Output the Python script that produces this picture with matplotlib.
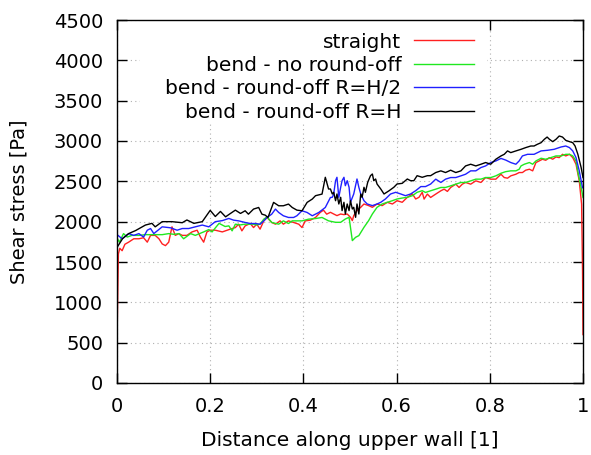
import matplotlib
matplotlib.use("Agg")
import matplotlib.pyplot as plt
from matplotlib.patches import Rectangle

# ---------------- data ----------------
labels = ["straight", "bend - no round-off", "bend - round-off R=H/2", "bend - round-off R=H"]
colors = ["#ff2020", "#20e820", "#2020ff", "#000000"]

x_straight = [0.000, 0.003, 0.006, 0.011, 0.017, 0.025, 0.036, 0.047, 0.057, 0.065,
              0.072, 0.082, 0.090, 0.097, 0.104, 0.111, 0.118, 0.125, 0.133, 0.140,
              0.150, 0.161, 0.172, 0.179, 0.186, 0.193, 0.200, 0.211, 0.226, 0.243,
              0.254, 0.261, 0.268, 0.275, 0.286, 0.293, 0.300, 0.307, 0.315, 0.322,
              0.332, 0.340, 0.350, 0.357, 0.368, 0.379, 0.390, 0.397, 0.404, 0.415,
              0.426, 0.436, 0.443, 0.450, 0.458, 0.465, 0.472, 0.480, 0.487, 0.494,
              0.501, 0.505, 0.508, 0.515, 0.523, 0.530, 0.540, 0.548, 0.558, 0.569,
              0.580, 0.591, 0.601, 0.612, 0.623, 0.634, 0.641, 0.648, 0.655, 0.659,
              0.666, 0.673, 0.684, 0.695, 0.702, 0.709, 0.716, 0.727, 0.734, 0.741,
              0.748, 0.759, 0.770, 0.781, 0.791, 0.802, 0.813, 0.824, 0.831, 0.838,
              0.845, 0.856, 0.863, 0.870, 0.877, 0.885, 0.892, 0.899, 0.906, 0.913,
              0.920, 0.928, 0.935, 0.942, 0.949, 0.956, 0.963, 0.971, 0.978, 0.985,
              0.992, 0.997, 0.999, 1.000]
y_straight = [510, 1600, 1670, 1640, 1720, 1746, 1788, 1788, 1801, 1746,
              1830, 1830, 1788, 1724, 1703, 1746, 1936, 1830, 1852, 1830,
              1830, 1873, 1894, 1809, 1746, 1873, 1894, 1894, 1873, 1907,
              1927, 1969, 1886, 1948, 1977, 1927, 1969, 1907, 2010, 2052,
              1990, 1969, 2010, 1969, 2010, 1990, 1969, 1927, 2010, 2019,
              2052, 2114, 2143, 2093, 2116, 2095, 2075, 2095, 2087, 2095,
              2054, 2013, 2075, 2137, 2178, 2219, 2199, 2178, 2219, 2199,
              2240, 2219, 2260, 2240, 2302, 2343, 2281, 2302, 2364, 2280,
              2342, 2300, 2342, 2383, 2403, 2375, 2424, 2465, 2424, 2465,
              2486, 2465, 2506, 2486, 2547, 2527, 2527, 2588, 2547, 2539,
              2568, 2588, 2609, 2609, 2638, 2650, 2630, 2733, 2753, 2774,
              2761, 2794, 2774, 2802, 2794, 2835, 2815, 2835, 2794, 2712,
              2506, 2218, 1395, 600]

x_no_round = [0.000, 0.005, 0.014, 0.022, 0.032, 0.047, 0.061, 0.075, 0.097, 0.111,
              0.122, 0.133, 0.143, 0.158, 0.168, 0.186, 0.197, 0.204, 0.219, 0.232,
              0.240, 0.247, 0.254, 0.265, 0.275, 0.290, 0.300, 0.307, 0.315, 0.322,
              0.332, 0.347, 0.357, 0.368, 0.376, 0.386, 0.397, 0.411, 0.426, 0.440,
              0.454, 0.469, 0.480, 0.490, 0.498, 0.505, 0.512, 0.519, 0.530, 0.540,
              0.548, 0.558, 0.569, 0.580, 0.591, 0.601, 0.612, 0.623, 0.634, 0.644,
              0.655, 0.662, 0.673, 0.684, 0.695, 0.705, 0.716, 0.727, 0.738, 0.748,
              0.759, 0.770, 0.781, 0.791, 0.802, 0.813, 0.824, 0.834, 0.845, 0.856,
              0.863, 0.867, 0.874, 0.885, 0.892, 0.899, 0.910, 0.920, 0.931, 0.942,
              0.953, 0.963, 0.971, 0.978, 0.985, 0.990, 0.996, 1.000]
y_no_round = [1800, 1746, 1852, 1809, 1830, 1830, 1839, 1839, 1839, 1852,
              1843, 1852, 1788, 1852, 1830, 1873, 1902, 1873, 1979, 1940,
              1948, 1886, 1969, 1960, 1969, 1969, 1960, 1969, 2031, 2060,
              1990, 1969, 2010, 1977, 2010, 2010, 2010, 2031, 2039, 2052,
              2010, 1992, 1992, 2033, 2054, 1765, 1806, 1827, 1930, 2013,
              2095, 2178, 2219, 2240, 2260, 2281, 2293, 2302, 2322, 2364,
              2384, 2362, 2383, 2403, 2424, 2424, 2444, 2465, 2486, 2486,
              2506, 2527, 2527, 2547, 2547, 2568, 2600, 2620, 2630, 2630,
              2650, 2691, 2712, 2733, 2712, 2753, 2786, 2774, 2794, 2815,
              2815, 2835, 2835, 2815, 2753, 2588, 2424, 2300]

x_half_h = [0.000, 0.011, 0.025, 0.036, 0.047, 0.057, 0.065, 0.072, 0.079, 0.097,
            0.115, 0.129, 0.140, 0.154, 0.168, 0.183, 0.197, 0.211, 0.226, 0.240,
            0.250, 0.261, 0.275, 0.286, 0.297, 0.307, 0.315, 0.322, 0.332, 0.340,
            0.347, 0.357, 0.368, 0.379, 0.386, 0.397, 0.408, 0.419, 0.433, 0.447,
            0.458, 0.462, 0.465, 0.469, 0.472, 0.476, 0.480, 0.483, 0.487, 0.490,
            0.494, 0.498, 0.501, 0.508, 0.515, 0.519, 0.523, 0.530, 0.537, 0.548,
            0.558, 0.566, 0.576, 0.587, 0.598, 0.609, 0.619, 0.630, 0.641, 0.652,
            0.662, 0.673, 0.684, 0.695, 0.705, 0.716, 0.727, 0.738, 0.748, 0.759,
            0.770, 0.781, 0.791, 0.802, 0.813, 0.824, 0.834, 0.845, 0.856, 0.863,
            0.870, 0.881, 0.895, 0.910, 0.924, 0.938, 0.953, 0.963, 0.971, 0.978,
            0.985, 0.992, 0.999]
y_half_h = [1840, 1788, 1852, 1830, 1852, 1809, 1894, 1915, 1852, 1936,
            1924, 1894, 1915, 1915, 1936, 1958, 1936, 2000, 2013, 2040,
            2019, 2010, 1990, 1977, 1977, 1969, 2010, 2052, 2093, 2156,
            2114, 2073, 2052, 2052, 2073, 2135, 2114, 2073, 2114, 2176,
            2300, 2302, 2343, 2508, 2550, 2302, 2426, 2508, 2550, 2446,
            2508, 2426, 2240, 2343, 2529, 2426, 2343, 2260, 2219, 2199,
            2219, 2240, 2281, 2343, 2364, 2343, 2322, 2343, 2384, 2435,
            2435, 2466, 2527, 2486, 2527, 2547, 2547, 2568, 2588, 2630,
            2630, 2671, 2691, 2733, 2753, 2784, 2764, 2733, 2712, 2753,
            2815, 2835, 2835, 2877, 2885, 2897, 2926, 2938, 2918, 2877,
            2794, 2630, 2420]

x_full_h = [0.000, 0.012, 0.025, 0.040, 0.061, 0.075, 0.082, 0.097, 0.118, 0.140,
            0.150, 0.165, 0.183, 0.200, 0.211, 0.222, 0.233, 0.243, 0.254, 0.265,
            0.275, 0.282, 0.293, 0.304, 0.311, 0.318, 0.324, 0.336, 0.347, 0.357,
            0.368, 0.376, 0.386, 0.397, 0.408, 0.419, 0.426, 0.440, 0.447, 0.450,
            0.454, 0.458, 0.462, 0.465, 0.469, 0.472, 0.476, 0.480, 0.483, 0.487,
            0.490, 0.494, 0.498, 0.501, 0.505, 0.508, 0.512, 0.515, 0.519, 0.523,
            0.526, 0.530, 0.533, 0.538, 0.544, 0.548, 0.551, 0.555, 0.558, 0.566,
            0.573, 0.584, 0.594, 0.601, 0.612, 0.623, 0.630, 0.637, 0.644, 0.655,
            0.666, 0.673, 0.684, 0.695, 0.705, 0.716, 0.727, 0.738, 0.748, 0.759,
            0.770, 0.781, 0.791, 0.802, 0.813, 0.824, 0.831, 0.838, 0.845, 0.856,
            0.867, 0.877, 0.888, 0.895, 0.902, 0.910, 0.917, 0.923, 0.928, 0.935,
            0.942, 0.949, 0.956, 0.963, 0.971, 0.978, 0.983, 0.989, 0.996, 1.000]
y_full_h = [1680, 1790, 1852, 1890, 1958, 1979, 1936, 2000, 2000, 1987,
            2021, 1979, 2000, 2140, 2064, 2127, 2060, 2100, 2143, 2102,
            2135, 2093, 2156, 2176, 2093, 2081, 2052, 2239, 2197, 2197,
            2218, 2176, 2143, 2135, 2239, 2280, 2322, 2342, 2550, 2488,
            2405, 2405, 2343, 2364, 2260, 2343, 2219, 2302, 2137, 2240,
            2095, 2219, 2137, 2260, 2157, 2178, 2054, 2219, 2095, 2343,
            2302, 2426, 2364, 2488, 2570, 2591, 2508, 2529, 2467, 2405,
            2343, 2384, 2426, 2467, 2475, 2529, 2508, 2508, 2570, 2550,
            2570, 2570, 2609, 2630, 2609, 2638, 2609, 2630, 2691, 2712,
            2691, 2712, 2733, 2712, 2774, 2815, 2835, 2877, 2856, 2877,
            2897, 2918, 2938, 2938, 2959, 2979, 3021, 3049, 3021, 2992,
            3021, 3062, 3049, 3008, 2992, 2979, 2938, 2835, 2671, 2547]

x_ticks = [0, 0.2, 0.4, 0.6, 0.8, 1]
x_ticklabels = ["0", "0.2", "0.4", "0.6", "0.8", "1"]
y_ticks = [0, 500, 1000, 1500, 2000, 2500, 3000, 3500, 4000, 4500]

# ---------------- figure ----------------
W, H = 591, 455
fig = plt.figure(figsize=(W / 100, H / 100), dpi=100)
L, R, B, T = 117, 583, 383, 20
ax = fig.add_axes([L / W, 1 - B / H, (R - L) / W, (B - T) / H])


def ax_x(px):
    return (px - L) / (R - L)


def ax_y(py):
    return (B - py) / (B - T)


series = [(x_straight, y_straight), (x_no_round, y_no_round),
          (x_half_h, y_half_h), (x_full_h, y_full_h)]
for (xs, ys), lab, c in zip(series, labels, colors):
    ax.plot(xs, ys, color=c, lw=1.0, label=lab, zorder=3)

ax.set_xlim(0, 1)
ax.set_ylim(0, 4500)
ax.set_xticks(x_ticks)
ax.set_xticklabels(x_ticklabels)
ax.set_yticks(y_ticks)

ax.grid(True, color="#b0b0b0", linestyle=(0, (1, 3)), linewidth=0.8)
ax.set_axisbelow(True)
for s in ax.spines.values():
    s.set_linewidth(1.0)
    s.set_color("black")
    s.set_zorder(6)
ax.tick_params(direction="in", length=7, width=1.0, top=True, right=True,
               labelsize=14, pad=10)

ax.set_xlabel("Distance along upper wall [1]", fontsize=14.5)
ax.set_ylabel("Shear stress [Pa]", fontsize=14)
ax.xaxis.set_label_coords(ax_x(350), ax_y(431))
ax.yaxis.set_label_coords(ax_x(29), ax_y(202))

# gnuplot-style key: opaque box, right-aligned labels, samples on the right
ax.add_patch(Rectangle((ax_x(140), ax_y(122)), ax_x(487) - ax_x(140),
                       ax_y(20.5) - ax_y(122), transform=ax.transAxes,
                       facecolor="white", edgecolor="none", zorder=4))
row_y = [40, 63.5, 87, 110.5]
for lab, c, ry in zip(labels, colors, row_y):
    ax.text(ax_x(401.5), ax_y(ry), lab, transform=ax.transAxes, ha="right",
            va="center_baseline", fontsize=14.5, zorder=5)
    ax.plot([ax_x(414), ax_x(474)], [ax_y(ry), ax_y(ry)], transform=ax.transAxes,
            color=c, lw=1.0, zorder=5)

fig.savefig("out.png", dpi=100)
